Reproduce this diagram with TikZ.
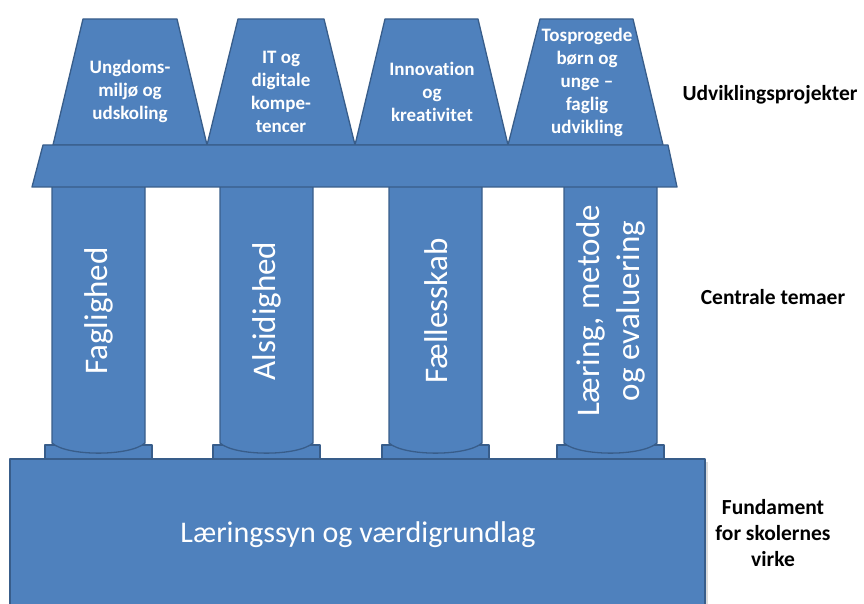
\documentclass[tikz,border=0pt]{standalone}
\usepackage{fontspec}
\setmainfont{Carlito}[Ligatures=NoCommon]
\definecolor{pfill}{HTML}{4F81BD}
\definecolor{pline}{HTML}{385D8A}
\tikzset{
  part/.style={fill=pfill, draw=pline, line width=1.3pt, line join=round},
  toplabel/.style={text=white, font=\bfseries\fontsize{19}{23}\selectfont, align=center, inner sep=0pt},
  collabel/.style={text=white, font=\fontsize{33}{40}\selectfont, align=center, rotate=90, inner sep=0pt},
  sidelabel/.style={text=black, font=\bfseries\fontsize{21.5}{26}\selectfont, align=center, inner sep=0pt}
}
\begin{document}
\begin{tikzpicture}[x=1pt,y=-1pt]
\useasboundingbox (0,0) rectangle (864,604);
\begin{scope}
\clip (0,0) rectangle (864,604);
% subtle shadow of base
\fill[black!14] (13,462) rectangle (708,620);
% base
\draw[part] (10,459) rectangle (705,640);
% plinths
\foreach \l/\r in {45/152, 213/320, 382/489, 557/664}{
  \draw[part] (\l,445) rectangle (\r,459);
}
% columns
\foreach \l/\r in {52/145, 220/313, 389/482, 564/657}{
  \draw[part] (\l,180) -- (\l,443) .. controls ({\l+15},456.5) and ({\r-15},456.5) .. (\r,443) -- (\r,180);
}
% top trapezoids
\draw[part] (53,145) -- (83,19) -- (177,19) -- (207,145) -- cycle;
\draw[part] (207,145) -- (238,19) -- (324,19) -- (355,145) -- cycle;
\draw[part] (355,145) -- (385,19) -- (478,19) -- (508,145) -- cycle;
\draw[part] (508,145) -- (540,19) -- (633,19) -- (663,145) -- cycle;
% beam
\draw[part] (43,145) -- (668,145) -- (677,187) -- (32,187) -- cycle;
\end{scope}
% labels in trapezoids
\node[toplabel] (p1) at (130,91) {Ungdoms-\\milj\o{} og\\udskoling};
\node[toplabel] (p2) at (281,92) {IT og\\digitale\\kompe-\\tencer};
\node[toplabel] (p3) at (432,92) {Innovat\kern0pt ion\\og\\kreat\kern0pt ivit\kern0pt et};
\node[toplabel] (p4) at (587,82) {Tosprogede\\b\o{}rn og\\unge --\\faglig\\udvikling};
% column labels
\node[collabel] (c1) at (99,311) {Faglighed};
\node[collabel] (c2) at (267,311) {Alsidighed};
\node[collabel] (c3) at (436,311) {Fællesskab};
\node[collabel] (c4) at (611,311) {Læring, metode\\og evaluering};
% base label
\node[text=white, font=\fontsize{30}{36}\selectfont, inner sep=0pt] (base) at (358,535) {Læringssyn og værdigrundlag};
% side labels
\node[sidelabel] (s1) at (770,95) {Udviklingsprojekter};
\node[sidelabel] (s2) at (773,297) {Centrale temaer};
\node[sidelabel] (s3) at (773,533) {Fundament\\for skolernes\\virke};
\end{tikzpicture}
\end{document}
